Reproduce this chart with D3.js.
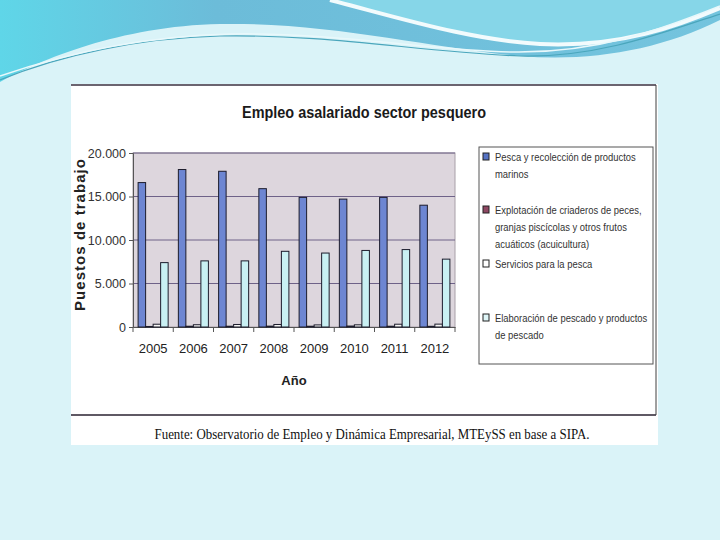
<!DOCTYPE html>
<html>
<head>
<meta charset="utf-8">
<script src="https://cdn.jsdelivr.net/npm/d3@7"></script>
<style>
  html, body { margin: 0; padding: 0; background: #daf3f8; }
  svg { display: block; }
</style>
</head>
<body>
<div id="chart"></div>
<script>
const years = ["2005", "2006", "2007", "2008", "2009", "2010", "2011", "2012"];
const seriesNames = [
    "Pesca y recolección de productos marinos",
    "Explotación de criaderos de peces, granjas piscícolas y otros frutos acuáticos (acuicultura)",
    "Servicios para la pesca",
    "Elaboración de pescado y productos de pescado"
];
const pesca = [16600, 18100, 17900, 15900, 14900, 14700, 14900, 14000];
const acuicultura = [60, 90, 90, 100, 90, 110, 90, 80];
const servicios = [320, 260, 290, 290, 240, 250, 320, 330];
const elaboracion = [7400, 7600, 7600, 8700, 8500, 8800, 8900, 7800];
const yTicks = [0, 5000, 10000, 15000, 20000];
const legendLines = [
    ["Pesca y recolección de productos", "marinos"],
    ["Explotación de criaderos de peces,", "granjas piscícolas y otros frutos", "acuáticos (acuicultura)"],
    ["Servicios para la pesca"],
    ["Elaboración de pescado y productos", "de pescado"]
];

const fills = ["#6d86d2", "#8c3556", "#f4f4f2", "#c9f0f3"];
const legendFills = ["#5673c4", "#8e4762", "#ffffff", "#dff6f8"];

const width = 720, height = 540;
const plot = { left: 133, right: 455, top: 153, bottom: 327 };

const svg = d3.select("#chart").append("svg")
    .attr("width", width)
    .attr("height", height);

// --- slide background waves ---
const defs = svg.append("defs");
const grad = defs.append("linearGradient").attr("id", "waveBlue")
    .attr("x1", "0").attr("y1", "0").attr("x2", "1").attr("y2", "0");
grad.append("stop").attr("offset", "0").attr("stop-color", "#5fd6e8");
grad.append("stop").attr("offset", "0.3").attr("stop-color", "#6cbcd9");
grad.append("stop").attr("offset", "1").attr("stop-color", "#74c4de");

svg.append("path")
    .attr("d", "M0,0 H720 V20 C660,50 590,62 520,56 C430,48 330,22 220,24 C120,26 40,60 0,82 Z")
    .attr("fill", "url(#waveBlue)");
svg.append("path")
    .attr("d", "M330,0 C400,18 470,40 540,44 C620,48 680,25 720,8 V0 Z")
    .attr("fill", "#86d6e8");
svg.append("path")
    .attr("d", "M330,0 C400,18 470,40 540,44 C620,48 680,25 720,8")
    .attr("fill", "none").attr("stroke", "#f2fbfd").attr("stroke-width", 4);
svg.append("path")
    .attr("d", "M0,80 C60,55 140,38 220,36 C330,34 420,52 520,56 C600,58 670,30 720,14")
    .attr("fill", "none").attr("stroke", "#4aa6bc").attr("stroke-width", 1.2);
svg.append("path")
    .attr("d", "M0,76 C70,52 150,36 230,34 C330,32 430,50 510,52 C600,54 670,26 720,6")
    .attr("fill", "none").attr("stroke", "#e8f8fb").attr("stroke-width", 1.5);

// --- scanned chart frame ---
svg.append("rect")
    .attr("x", 71).attr("y", 84).attr("width", 587).attr("height", 361)
    .attr("fill", "#ffffff");
svg.append("line")
    .attr("x1", 71).attr("x2", 656).attr("y1", 85).attr("y2", 85)
    .attr("stroke", "#3a3040").attr("stroke-width", 1.5);
svg.append("line")
    .attr("x1", 71).attr("x2", 656).attr("y1", 415).attr("y2", 415)
    .attr("stroke", "#2a2230").attr("stroke-width", 1.5);
svg.append("line")
    .attr("x1", 656).attr("x2", 656).attr("y1", 85).attr("y2", 415)
    .attr("stroke", "#404040").attr("stroke-width", 1);

svg.append("text")
    .attr("x", 364).attr("y", 118)
    .attr("text-anchor", "middle")
    .attr("font-family", "Liberation Sans, Arial, sans-serif")
    .attr("font-weight", "bold")
    .attr("font-size", 16)
    .attr("textLength", 244).attr("lengthAdjust", "spacingAndGlyphs")
    .attr("fill", "#1a1a1a")
    .text("Empleo asalariado sector pesquero");

// --- scales ---
const x0 = d3.scaleBand().domain(years).range([plot.left, plot.right]);
const x1 = d3.scaleBand().domain(d3.range(seriesNames.length))
    .range([0, x0.bandwidth()]).paddingOuter(0.68);
const y = d3.scaleLinear().domain([0, 20000]).range([plot.bottom, plot.top]);

svg.append("rect")
    .attr("x", plot.left).attr("y", plot.top)
    .attr("width", plot.right - plot.left).attr("height", plot.bottom - plot.top)
    .attr("fill", "#ddd6dd")
    .attr("stroke", "#a8a0a8");

svg.append("g").selectAll("line")
    .data(yTicks.filter(d => d > 0))
    .join("line")
    .attr("x1", plot.left).attr("x2", plot.right)
    .attr("y1", d => y(d)).attr("y2", d => y(d))
    .attr("stroke", "#6e6288").attr("stroke-width", 1);

const fmt = d => d === 0 ? "0" : d3.format(",")(d).replace(/,/g, ".");

const yAxis = svg.append("g")
    .attr("transform", `translate(${plot.left},0)`)
    .call(d3.axisLeft(y).tickValues(yTicks).tickSize(4).tickFormat(fmt));
yAxis.select(".domain").attr("stroke", "#555");
yAxis.selectAll(".tick line").attr("stroke", "#555");
yAxis.selectAll("text")
    .attr("font-family", "Liberation Sans, Arial, sans-serif")
    .attr("font-size", 12.5)
    .attr("fill", "#333");

const xAxis = svg.append("g")
    .attr("transform", `translate(0,${plot.bottom})`)
    .call(d3.axisBottom(x0).tickSize(0).tickPadding(17));
xAxis.select(".domain").attr("stroke", "#555");
xAxis.selectAll("text")
    .attr("font-family", "Liberation Sans, Arial, sans-serif")
    .attr("font-size", 13)
    .attr("fill", "#222");
svg.append("g").selectAll("line")
    .data(years)
    .join("line")
    .attr("x1", d => x0(d)).attr("x2", d => x0(d))
    .attr("y1", plot.bottom).attr("y2", plot.bottom + 5)
    .attr("stroke", "#555");
svg.append("line")
    .attr("x1", plot.right).attr("x2", plot.right)
    .attr("y1", plot.bottom).attr("y2", plot.bottom + 5)
    .attr("stroke", "#555");

// --- bars ---
const allSeries = [pesca, acuicultura, servicios, elaboracion];
const groups = svg.append("g").selectAll("g")
    .data(years)
    .join("g")
    .attr("transform", d => `translate(${x0(d)},0)`);
groups.selectAll("rect")
    .data((d, i) => allSeries.map((s, k) => ({ k, v: s[i] })))
    .join("rect")
    .attr("x", d => x1(d.k))
    .attr("width", x1.bandwidth())
    .attr("y", d => y(d.v))
    .attr("height", d => y(0) - y(d.v))
    .attr("fill", d => fills[d.k])
    .attr("stroke", "#1c1c2c")
    .attr("stroke-width", 1);

// --- axis titles ---
svg.append("text")
    .attr("transform", "translate(85,235) rotate(-90)")
    .attr("text-anchor", "middle")
    .attr("font-family", "Liberation Sans, Arial, sans-serif")
    .attr("font-weight", "bold")
    .attr("font-size", 15)
    .attr("textLength", 152).attr("lengthAdjust", "spacing")
    .attr("fill", "#222")
    .text("Puestos de trabajo");

svg.append("text")
    .attr("x", 294).attr("y", 385)
    .attr("text-anchor", "middle")
    .attr("font-family", "Liberation Sans, Arial, sans-serif")
    .attr("font-weight", "bold")
    .attr("font-size", 13)
    .attr("fill", "#222")
    .text("Año");

// --- legend ---
svg.append("rect")
    .attr("x", 479).attr("y", 147).attr("width", 174).attr("height", 217)
    .attr("fill", "#ffffff")
    .attr("stroke", "#555");

const legendY = [161, 214, 268, 322];
const legend = svg.append("g").selectAll("g")
    .data(legendLines)
    .join("g")
    .attr("transform", (d, i) => `translate(483,${legendY[i]})`);
legend.append("rect")
    .attr("x", 0).attr("y", -8).attr("width", 6).attr("height", 7)
    .attr("fill", (d, i) => legendFills[i])
    .attr("stroke", "#222");
legend.append("text")
    .attr("transform", "translate(12,0) scale(0.82,1)")
    .attr("font-family", "Liberation Sans, Arial, sans-serif")
    .attr("font-size", 11.5)
    .attr("fill", "#333")
    .selectAll("tspan")
    .data(d => d)
    .join("tspan")
    .attr("x", 0)
    .attr("dy", (d, i) => i === 0 ? 0 : 17)
    .text(d => d);

// --- source ---
svg.append("text")
    .attr("x", 372).attr("y", 439)
    .attr("text-anchor", "middle")
    .attr("font-family", "Liberation Serif, Times New Roman, serif")
    .attr("font-size", 14)
    .attr("textLength", 435).attr("lengthAdjust", "spacingAndGlyphs")
    .attr("fill", "#111")
    .text("Fuente: Observatorio de Empleo y Dinámica Empresarial, MTEySS en base a SIPA.");
</script>
</body>
</html>
